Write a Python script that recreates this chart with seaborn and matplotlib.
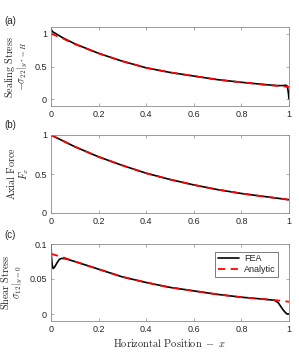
import matplotlib
matplotlib.use("Agg")
import matplotlib.pyplot as plt
import seaborn as sns

# (a) sealing stress
a_fea_x = [0, 0.004, 0.01, 0.02, 0.05, 0.1, 0.2, 0.3, 0.4, 0.5, 0.6, 0.7, 0.8, 0.9,
           0.95, 0.975, 0.985, 0.991, 0.995, 0.998, 1.0]
a_fea_y = [1.07, 1.04, 1.02, 1.0, 0.935, 0.845, 0.70, 0.58, 0.48, 0.41, 0.355, 0.30,
           0.26, 0.225, 0.21, 0.21, 0.215, 0.21, 0.16, 0.08, 0.01]
a_ana_x = [0, 0.05, 0.1, 0.2, 0.3, 0.4, 0.5, 0.6, 0.7, 0.8, 0.9, 1.0]
a_ana_y = [1.0, 0.925, 0.84, 0.70, 0.58, 0.48, 0.41, 0.355, 0.30, 0.26, 0.222, 0.19]

# (b) axial force
b_fea_x = [0, 0.1, 0.2, 0.3, 0.4, 0.5, 0.6, 0.7, 0.8, 0.9, 1.0]
b_fea_y = [1.0, 0.85, 0.72, 0.61, 0.51, 0.43, 0.36, 0.30, 0.25, 0.21, 0.17]
b_ana_x = [0, 0.1, 0.2, 0.3, 0.4, 0.5, 0.6, 0.7, 0.8, 0.9, 1.0]
b_ana_y = [1.0, 0.85, 0.72, 0.61, 0.51, 0.43, 0.36, 0.30, 0.25, 0.21, 0.17]

# (c) shear stress
c_fea_x = [0, 0.002, 0.005, 0.009, 0.015, 0.025, 0.035, 0.045, 0.06, 0.1, 0.2, 0.3,
           0.4, 0.5, 0.6, 0.7, 0.8, 0.9, 0.94, 0.955, 0.965, 0.975, 0.985, 0.992, 1.0]
c_fea_y = [0.1, 0.082, 0.07, 0.065, 0.067, 0.073, 0.078, 0.0795, 0.079, 0.075, 0.064,
           0.053, 0.045, 0.038, 0.033, 0.028, 0.024, 0.021, 0.0195, 0.016, 0.011,
           0.006, 0.002, 0.0, 0.0]
c_ana_x = [0, 0.05, 0.1, 0.2, 0.3, 0.4, 0.5, 0.6, 0.7, 0.8, 0.9, 0.95, 1.0]
c_ana_y = [0.086, 0.081, 0.075, 0.064, 0.053, 0.045, 0.038, 0.033, 0.028, 0.024,
           0.021, 0.0195, 0.0175]

x_ticks = [0, 0.2, 0.4, 0.6, 0.8, 1]
x_tick_labels = ["0", "0.2", "0.4", "0.6", "0.8", "1"]


def setup_style() -> None:
    sns.set_theme(style="ticks")
    plt.rcParams.update(
        {
            "font.family": ["Liberation Sans", "DejaVu Sans"],
            "mathtext.fontset": "cm",
            "font.size": 7,
            "xtick.labelsize": 6.5,
            "ytick.labelsize": 6.5,
            "xtick.direction": "in",
            "ytick.direction": "in",
            "xtick.major.size": 2.2,
            "ytick.major.size": 2.2,
            "xtick.major.width": 0.5,
            "ytick.major.width": 0.5,
            "xtick.top": True,
            "ytick.right": True,
            "axes.edgecolor": "#8c8c8c",
            "axes.linewidth": 0.6,
            "xtick.color": "#8c8c8c",
            "ytick.color": "#8c8c8c",
            "xtick.labelcolor": "#262626",
            "ytick.labelcolor": "#262626",
            "xtick.major.pad": 3,
            "ytick.major.pad": 3,
        }
    )


def draw_panel(ax, fea_x, fea_y, ana_x, ana_y, legend=False):
    sns.lineplot(x=fea_x, y=fea_y, ax=ax, color="black", linewidth=1.2,
                 estimator=None, sort=False, label="FEA" if legend else None)
    sns.lineplot(x=ana_x, y=ana_y, ax=ax, color="#ff0000", linewidth=1.3,
                 linestyle=(0, (4, 3)), estimator=None, sort=False,
                 label="Analytic" if legend else None)
    ax.set_xlim(0, 1)
    ax.set_xticks(x_ticks)
    ax.set_xticklabels(x_tick_labels)
    for side in ["top", "right"]:
        ax.spines[side].set_visible(True)


def two_line_ylabel(ax, line1, line2, x1, x2):
    # two stacked rotated lines, placed in axes fraction
    for txt, xpos in ((line1, x1), (line2, x2)):
        ax.text(xpos, 0.5, txt, rotation=90, ha="center", va="center",
                fontsize=7.3, color="#262626", transform=ax.transAxes)


def main() -> None:
    setup_style()
    fig = plt.figure(figsize=(2.99, 3.61), dpi=100)
    left, width = 51 / 299, 238 / 299
    ax_a = fig.add_axes([left, 1 - 106 / 361, width, 79 / 361])
    ax_b = fig.add_axes([left, 1 - 213 / 361, width, 78 / 361])
    ax_c = fig.add_axes([left, 1 - 321 / 361, width, 77 / 361])

    draw_panel(ax_a, a_fea_x, a_fea_y, a_ana_x, a_ana_y)
    ax_a.set_ylim(-0.1, 1.1)
    ax_a.set_yticks([0, 0.5, 1])
    ax_a.set_yticklabels(["0", "0.5", "1"])
    two_line_ylabel(ax_a, r"$\mathrm{Sealing\ Stress}$", r"$-\sigma_{22}|_{y^*=H}$",
                    -0.172, -0.118)

    draw_panel(ax_b, b_fea_x, b_fea_y, b_ana_x, b_ana_y)
    ax_b.set_ylim(0, 1)
    ax_b.set_yticks([0, 0.5, 1])
    ax_b.set_yticklabels(["0", "0.5", "1"])
    two_line_ylabel(ax_b, r"$\mathrm{Axial\ Force}$", r"$F_x$", -0.168, -0.114)

    draw_panel(ax_c, c_fea_x, c_fea_y, c_ana_x, c_ana_y, legend=True)
    ax_c.set_ylim(-0.01, 0.1)
    ax_c.set_yticks([0, 0.05, 0.1])
    ax_c.set_yticklabels(["0", "0.05", "0.1"])
    two_line_ylabel(ax_c, r"$\mathrm{Shear\ Stress}$", r"$\sigma_{12}|_{y=0}$",
                    -0.195, -0.141)
    ax_c.set_xlabel(r"$\mathrm{Horizontal\ Position}\ -\ x$", fontsize=7.5, labelpad=2)
    leg = ax_c.legend(loc="upper right", bbox_to_anchor=(0.955, 0.9), borderaxespad=0,
                      fontsize=6.5, frameon=True, fancybox=False, handlelength=2.4,
                      handletextpad=0.5, borderpad=0.3, labelspacing=0.2)
    leg.get_frame().set_edgecolor("#404040")
    leg.get_frame().set_linewidth(0.6)

    fig.text(4 / 299, 1 - 21 / 361, "(a)", fontsize=7, va="center", ha="left")
    fig.text(4 / 299, 1 - 125 / 361, "(b)", fontsize=7, va="center", ha="left")
    fig.text(4 / 299, 1 - 235 / 361, "(c)", fontsize=7, va="center", ha="left")

    fig.savefig("out.png", dpi=100)
    plt.close(fig)


if __name__ == "__main__":
    main()
